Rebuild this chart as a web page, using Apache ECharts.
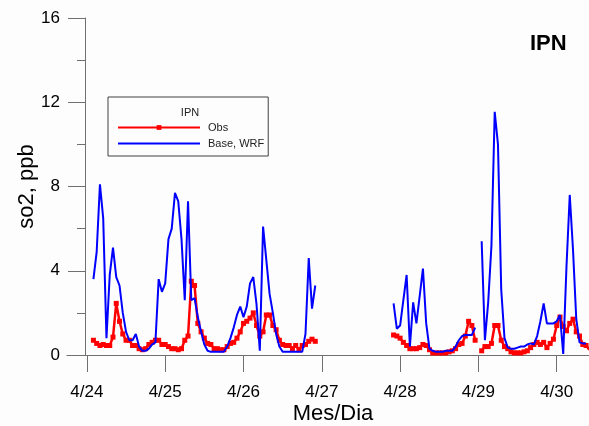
<!DOCTYPE html>
<html><head><meta charset="utf-8">
<script src="https://cdn.jsdelivr.net/npm/echarts@6/dist/echarts.min.js"></script>
<style>html,body{margin:0;padding:0;background:#fdfdfd}#c{width:589px;height:426px}</style>
</head><body><div id="c"></div>
<script>
// Day tick labels and their positions (hours since 4/24 00:00)
const dayLabels = ['4/24', '4/25', '4/26', '4/27', '4/28', '4/29', '4/30'];
const dayTickHours = [0, 24, 48, 72, 96, 120, 144];
const yTicks = [0, 4, 8, 12, 16];

// Hourly values, segment A starts at hour 2 (4/24 02h), segment B at hour 94 (4/27 22h)
const segAStart = 2;
const segBStart = 94;

const obsA = [
  0.7, 0.55, 0.45, 0.5, 0.45, 0.45, 0.85, 2.45, 1.6, 1.0,
  0.7, 0.7, 0.45, 0.45, 0.3, 0.25, 0.3, 0.5, 0.6, 0.7,
  0.7, 0.5, 0.5, 0.4, 0.3, 0.3, 0.25, 0.3, 0.7, 0.9,
  3.5, 3.3, 1.5, 1.1, 0.8, 0.55, 0.5, 0.3, 0.3, 0.25,
  0.25, 0.4, 0.55, 0.6, 0.8, 1.1, 1.5, 1.6, 1.75, 2.0,
  1.4, 0.9, 1.1, 1.9, 1.9, 1.4, 1.2, 0.7, 0.5, 0.45,
  0.45, 0.3, 0.45, 0.25, 0.45, 0.5, 0.65, 0.75, 0.65
];
const wrfA = [
  3.6, 4.9, 8.1, 6.5, 0.8, 3.8, 5.1, 3.7, 3.3, 2.0,
  1.1, 0.7, 0.7, 1.0, 0.4, 0.2, 0.2, 0.3, 0.5, 0.6,
  3.6, 3.0, 3.4, 5.5, 6.0, 7.7, 7.3, 5.5, 2.6, 7.3,
  2.6, 2.7, 1.8, 1.1, 0.5, 0.2, 0.15, 0.15, 0.15, 0.15,
  0.15, 0.4, 0.8, 1.3, 1.9, 2.3, 1.8, 2.3, 3.4, 3.7,
  2.4, 0.2, 6.1, 4.5, 2.9, 2.0, 1.0, 0.4, 0.15, 0.15,
  0.15, 0.15, 0.15, 0.15, 0.15, 1.0, 4.6, 2.2, 3.3
];
const obsB = [
  0.95, 0.9, 0.8, 0.6, 0.45, 0.3, 0.3, 0.3, 0.35, 0.5,
  0.45, 0.25, 0.1, 0.1, 0.1, 0.1, 0.1, 0.15, 0.2, 0.3,
  0.5, 0.55, 0.9, 1.6, 1.4, 0.7, null, 0.2, 0.4, 0.4,
  0.55, 1.4, 1.4, 0.7, 0.4, 0.3, 0.15, 0.1, 0.1, 0.1,
  0.15, 0.2, 0.35, 0.5, 0.6, 0.5, 0.6, 0.35, 0.55, 0.75,
  1.4, 1.8, 1.35, 1.15, 1.5, 1.7, 1.1, 0.9, 0.5, 0.45,
  0.25
];
const wrfB = [
  2.45, 1.25, 1.4, 2.6, 3.8, 0.4, 2.5, 1.5, 2.8, 4.1,
  1.5, 0.3, 0.2, 0.15, 0.15, 0.15, 0.2, 0.2, 0.2, 0.4,
  0.7, 0.9, 0.95, 0.95, 0.95, 1.3, null, 5.4, 0.7, 2.5,
  5.2, 11.55, 10.0, 3.1, 0.8, 0.35, 0.3, 0.3, 0.35, 0.4,
  0.4, 0.5, 0.55, 0.5, 0.9, 1.6, 2.45, 1.5, 1.5, 1.5,
  1.6, 1.9, 0.05, 4.2, 7.6, 5.0, 1.7, 0.6, 0.55, 0.55,
  null
];

function build(a, b) {
  const out = [];
  a.forEach((v, i) => out.push([segAStart + i, v]));
  out.push([segAStart + a.length, null]);
  b.forEach((v, i) => out.push([segBStart + i, v]));
  return out;
}

const FONT = 'Liberation Sans, Arial, sans-serif';
const AX = '#707070';
const chart = echarts.init(document.getElementById('c'), null, {renderer: 'canvas'});
chart.setOption({
  animation: false,
  backgroundColor: '#fdfdfd',
  textStyle: {fontFamily: FONT},
  title: [
    {text: 'IPN', left: 530, top: 33, padding: 0,
     textStyle: {fontSize: 22, fontWeight: 'bold', color: '#000', fontFamily: FONT}},
    {text: 'IPN', left: 190, top: 107, padding: 0, textAlign: 'center',
     textStyle: {fontSize: 11, fontWeight: 'normal', color: '#222', fontFamily: FONT}}
  ],
  legend: {
    orient: 'vertical', left: 108, top: 97,
    padding: [25, 4, 7, 9],
    itemWidth: 82, itemHeight: 6, itemGap: 5,
    borderColor: '#404040', borderWidth: 1, borderRadius: 0,
    backgroundColor: '#fdfdfd',
    textStyle: {fontSize: 11, color: '#222', fontFamily: FONT, padding: [0, 0, 0, 3]},
    data: [{name: 'Obs'}, {name: 'Base, WRF', itemStyle: {opacity: 0}}]
  },
  grid: [
    {left: 85, right: 0, top: 18, bottom: 71, containLabel: false, outerBoundsMode: 'none'},
    {left: 67, right: 504, top: 18, bottom: 71, containLabel: false, outerBoundsMode: 'none'}
  ],
  xAxis: [{
    type: 'value', min: -0.58, max: 153.9,
    axisLine: {show: true, onZero: false, lineStyle: {color: AX, width: 1}},
    splitLine: {show: false},
    axisTick: {show: true, customValues: dayTickHours, length: 17, lineStyle: {color: AX}},
    axisLabel: {show: true, customValues: dayTickHours, margin: 29, fontSize: 17, color: '#000', fontFamily: FONT,
      formatter: v => dayLabels[dayTickHours.indexOf(v)]},
    name: 'Mes/Dia', nameLocation: 'middle', nameGap: 48, nameMoveOverlap: false,
    nameTextStyle: {fontSize: 22, color: '#000', fontFamily: FONT, padding: [0, 8, 0, 0]}
  }, {
    gridIndex: 1, type: 'value', min: 0, max: 1,
    axisLine: {show: true, onZero: false, lineStyle: {color: AX, width: 1}},
    splitLine: {show: false}, axisTick: {show: false}, axisLabel: {show: false}
  }],
  yAxis: [{
    type: 'value', min: yTicks[0], max: yTicks[yTicks.length - 1], interval: 4,
    axisLine: {show: true, onZero: false, lineStyle: {color: AX, width: 1}},
    splitLine: {show: false},
    axisTick: {show: true, length: 17, lineStyle: {color: AX}},
    minorTick: {show: true, splitNumber: 2, length: 8, lineStyle: {color: AX}},
    minorSplitLine: {show: false},
    axisLabel: {show: true, margin: 25, fontSize: 17, color: '#000', fontFamily: FONT},
    name: 'so2, ppb', nameLocation: 'middle', nameGap: 47, nameMoveOverlap: false,
    nameTextStyle: {fontSize: 22, color: '#000', fontFamily: FONT}
  }, {
    gridIndex: 1, type: 'value', min: 0, max: 1, show: false
  }],
  series: [
    {
      name: 'Obs', type: 'line', data: build(obsA, obsB),
      symbol: 'rect', symbolSize: 5, showSymbol: true, showAllSymbol: true,
      connectNulls: false, z: 2,
      lineStyle: {color: '#ff0000', width: 2.5},
      itemStyle: {color: '#ff0000'}
    },
    {
      name: 'Base, WRF', type: 'line', data: build(wrfA, wrfB),
      symbol: 'none', showSymbol: false, connectNulls: false, z: 3,
      lineStyle: {color: '#0000ff', width: 2},
      itemStyle: {color: '#0000ff'}
    }
  ]
});
</script>
</body></html>
